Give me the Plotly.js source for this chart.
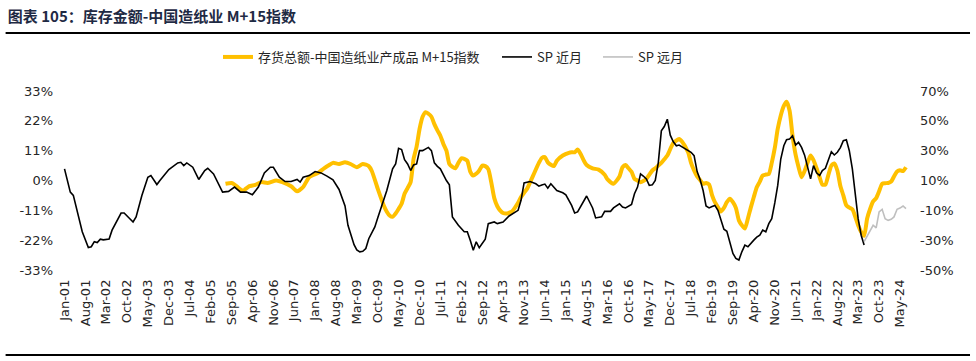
<!DOCTYPE html>
<html>
<head>
<meta charset="utf-8">
<script src="https://cdn.plot.ly/plotly-3.0.1.min.js"></script>
<style>html,body{margin:0;padding:0;background:#fff}#chart{width:976px;height:361px}</style>
</head>
<body>
<div id="chart"></div>
<script>
// ---- Data ----
const titleText = "图表 105：库存金额-中国造纸业 M+15指数";
const seriesNames = ["存货总额-中国造纸业产成品 M+15指数", "SP 近月", "SP 远月"];

const tickDates = ["2001-01","2001-08","2002-03","2002-10","2003-05","2003-12","2004-07","2005-02","2005-09","2006-04","2006-11","2007-06","2008-01","2008-08","2009-03","2009-10","2010-05","2010-12","2011-07","2012-02","2012-09","2013-04","2013-11","2014-06","2015-01","2015-08","2016-03","2016-10","2017-05","2017-12","2018-07","2019-02","2019-09","2020-04","2020-11","2021-06","2022-01","2022-08","2023-03","2023-10","2024-05"];
const tickLabels = ["Jan-01","Aug-01","Mar-02","Oct-02","May-03","Dec-03","Jul-04","Feb-05","Sep-05","Apr-06","Nov-06","Jun-07","Jan-08","Aug-08","Mar-09","Oct-09","May-10","Dec-10","Jul-11","Feb-12","Sep-12","Apr-13","Nov-13","Jun-14","Jan-15","Aug-15","Mar-16","Oct-16","May-17","Dec-17","Jul-18","Feb-19","Sep-19","Apr-20","Nov-20","Jun-21","Jan-22","Aug-22","Mar-23","Oct-23","May-24"];

const leftTicks = [-33, -22, -11, 0, 11, 22, 33];
const leftTickLabels = ["-33%", "-22%", "-11%", "0%", "11%", "22%", "33%"];
const rightTicks = [-50, -30, -10, 10, 30, 50, 70];
const rightTickLabels = ["-50%", "-30%", "-10%", "10%", "30%", "50%", "70%"];

// 存货总额 M+15 指数 (left axis, %)
const invDates = ["2005-07","2005-09","2005-10","2005-11","2005-12","2006-01","2006-02","2006-03","2006-05","2006-07","2006-09","2006-12","2007-02","2007-05","2007-07","2007-09","2007-11","2008-02","2008-04","2008-06","2008-07","2008-09","2008-11","2009-01","2009-03","2009-05","2009-07","2009-08","2009-10","2009-12","2010-01","2010-02","2010-03","2010-04","2010-05","2010-06","2010-07","2010-08","2010-09","2010-10","2010-11","2010-12","2011-01","2011-02","2011-03","2011-04","2011-05","2011-06","2011-07","2011-08","2011-09","2011-10","2011-11","2011-12","2012-01","2012-02","2012-03","2012-04","2012-05","2012-06","2012-07","2012-08","2012-09","2012-10","2012-11","2012-12","2013-01","2013-02","2013-03","2013-04","2013-05","2013-06","2013-07","2013-09","2013-10","2013-11","2013-12","2014-02","2014-04","2014-05","2014-06","2014-07","2014-08","2014-09","2014-10","2014-12","2015-02","2015-03","2015-04","2015-05","2015-06","2015-07","2015-08","2015-10","2015-12","2016-02","2016-03","2016-05","2016-07","2016-08","2016-09","2016-10","2016-11","2016-12","2017-01","2017-02","2017-03","2017-04","2017-06","2017-07","2017-08","2017-09","2017-10","2017-11","2018-01","2018-03","2018-04","2018-06","2018-07","2018-08","2018-09","2018-10","2018-11","2018-12","2019-01","2019-02","2019-03","2019-04","2019-05","2019-06","2019-07","2019-08","2019-09","2019-10","2019-11","2019-12","2020-01","2020-02","2020-03","2020-04","2020-05","2020-06","2020-07","2020-08","2020-09","2020-10","2020-11","2020-12","2021-01","2021-02","2021-03","2021-04","2021-05","2021-06","2021-07","2021-08","2021-09","2021-10","2021-11","2021-12","2022-01","2022-02","2022-03","2022-04","2022-05","2022-06","2022-07","2022-08","2022-09","2022-10","2022-11","2022-12","2023-01","2023-02","2023-03","2023-04","2023-05","2023-06","2023-07","2023-08","2023-09","2023-10","2023-11","2023-12","2024-01","2024-02","2024-03","2024-04","2024-05","2024-06","2024-07"];
const invValues = [-1.2,-0.9,-1.5,-2.4,-3.3,-3.7,-2.8,-2.1,-1.6,-0.6,-0.9,0,-0.6,-2.1,-4.0,-2.4,1.2,2.8,4.5,5.9,6.5,6.1,6.7,6.0,4.9,6.1,5.3,3.5,-3.1,-9.2,-11.5,-13,-13.4,-12.2,-10.5,-8.6,-4.9,-2.8,-0.6,8,12.5,19,23.5,25.2,24.6,23.5,20.8,18.5,16.5,13.5,11,6.1,5,4.5,6.5,8.2,8.0,7.3,3.3,1.8,2.5,3.7,5.5,5.3,4.2,-0.6,-6.5,-9.5,-11,-12,-12.2,-11.9,-11.4,-8.2,-6.1,-4.5,-3.1,1.8,6.5,8.3,8.6,6.7,5.8,5.3,7.3,9.2,10.2,10.4,10.4,11.4,9.8,7.5,5.7,4.5,4.0,2.1,0.4,-1.2,1.5,4.9,5.7,4.5,3.2,0.6,0,-0.6,-0.2,0.6,3.7,4.5,5.5,6.5,7.8,9.2,13.8,15.3,14.3,10.4,6.5,3.7,1.5,0.2,-1.2,-0.9,-1.5,-5.5,-8,-9.8,-11.4,-10.1,-8,-6.7,-8,-10.1,-14.7,-16.5,-17.7,-14,-10,-6.1,-2.5,-0.4,1.8,2.2,2.4,6.5,12,19,24,27.5,29,25.7,16.5,9.5,5,1.2,3.5,6.5,9.2,7.5,4.5,1.2,-1.5,-1.5,2.0,5.5,6.3,3.7,-2,-5.5,-9.2,-10,-10.6,-13.5,-16.5,-19,-20.4,-14,-10.5,-7.7,-6.5,-4,-1.2,-1.0,-0.9,-0.4,1.5,3.3,3.8,3.5,4.9];

// SP 近月 (right axis, %)
const nearDates = ["2001-01","2001-03","2001-04","2001-07","2001-09","2001-10","2001-11","2001-12","2002-01","2002-02","2002-04","2002-05","2002-08","2002-09","2002-12","2003-01","2003-03","2003-05","2003-06","2003-08","2003-09","2003-11","2003-12","2004-03","2004-04","2004-05","2004-06","2004-08","2004-10","2004-12","2005-01","2005-03","2005-05","2005-06","2005-08","2005-10","2005-12","2006-02","2006-04","2006-06","2006-08","2006-10","2006-11","2007-01","2007-03","2007-05","2007-07","2007-08","2007-09","2007-11","2008-01","2008-03","2008-05","2008-07","2008-09","2008-10","2008-11","2008-12","2009-01","2009-02","2009-03","2009-04","2009-05","2009-06","2009-07","2009-08","2009-09","2009-10","2009-11","2010-01","2010-03","2010-04","2010-05","2010-06","2010-07","2010-08","2010-09","2010-10","2010-11","2010-12","2011-01","2011-02","2011-03","2011-04","2011-05","2011-06","2011-07","2011-09","2011-10","2011-11","2012-01","2012-03","2012-04","2012-05","2012-06","2012-07","2012-08","2012-10","2012-11","2013-01","2013-02","2013-04","2013-06","2013-09","2013-10","2013-11","2014-01","2014-03","2014-04","2014-05","2014-06","2014-07","2014-08","2014-10","2014-12","2015-01","2015-03","2015-04","2015-05","2015-08","2015-10","2015-11","2016-01","2016-02","2016-04","2016-05","2016-07","2016-08","2016-09","2016-11","2016-12","2017-01","2017-02","2017-03","2017-04","2017-05","2017-06","2017-07","2017-08","2017-09","2017-10","2017-11","2017-12","2018-01","2018-02","2018-03","2018-05","2018-06","2018-07","2018-08","2018-09","2018-10","2018-11","2018-12","2019-01","2019-02","2019-03","2019-04","2019-05","2019-06","2019-07","2019-08","2019-09","2019-10","2019-11","2019-12","2020-01","2020-02","2020-03","2020-04","2020-05","2020-06","2020-07","2020-08","2020-09","2020-10","2020-11","2020-12","2021-01","2021-02","2021-03","2021-04","2021-05","2021-06","2021-07","2021-08","2021-09","2021-10","2021-11","2021-12","2022-01","2022-02","2022-03","2022-04","2022-05","2022-06","2022-07","2022-08","2022-09","2022-10","2022-11","2022-12","2023-01","2023-02","2023-03","2023-04","2023-05"];
const nearValues = [17.8,2.2,0,-24.4,-34.9,-34.4,-31,-31.6,-29.3,-29.8,-29.3,-23.3,-11.8,-11.8,-17.8,-14.4,0,12.2,13.3,7.3,10,14.4,17.3,21.8,22.2,20,21.8,18.9,10.7,16.7,18.2,14.4,6.7,2.2,2.7,5.6,2.2,2.2,0.4,5.6,15.1,18.9,18.9,12.2,9.3,9.3,10.7,8.9,12.2,13.3,16,15.1,12.9,10.4,4,-1,-7,-20,-26,-33,-36.5,-37.8,-37.5,-35.6,-29,-25,-21.1,-15,-8.9,3.3,17.8,21.1,31.6,30.7,24,21.1,16.7,20.4,21.1,30,30,31,32.2,30,21.8,19.5,17.8,10,7.1,-14.4,-20,-24.4,-24.4,-30,-36.7,-31.1,-35.1,-29.3,-18.9,-17.8,-18.9,-17.8,-13.8,-10,-3.3,8.4,9.3,7.8,6.2,7.0,7.6,4.9,7.8,3.3,1.8,0.4,-6.7,-11.8,-11.1,-0.4,-8.4,-15.1,-14.4,-10.7,-10.7,-8.4,-5.6,-7.8,-8.4,-6,1.1,5.6,14.4,13,11.1,6.7,7.1,10,22,43.3,46.2,51.1,40.4,36,33.3,33.8,31.6,30,28.9,26.7,16,10.7,3.3,-7.1,-8.4,-7.5,-6.7,-10,-15.6,-22.7,-24,-31.1,-38.9,-42.2,-43.3,-37.8,-33.3,-34.4,-32,-30,-28,-26.7,-23.3,-24.4,-18.9,-15.6,-5,6.7,24.4,33.3,37.3,37.8,40,33.8,35.6,32.2,27,19,11.1,20,15.1,13.3,16.7,18.2,24,29.3,27.1,28.9,32,36.7,37.3,30,17.8,2.2,-15.6,-26.7,-33.3];

// SP 远月 (right axis, %)
const farDates = ["2023-05","2023-06","2023-07","2023-08","2023-09","2023-10","2023-11","2023-12","2024-01","2024-02","2024-03","2024-04","2024-05","2024-06","2024-07"];
const farValues = [-31,-27,-23.3,-20,-21.8,-11.1,-9.3,-15.6,-16.7,-16,-14.4,-9.3,-8.5,-7.1,-8.9];

// ---- Chart ----
const tickFont = {family: "DejaVu Sans, Liberation Sans, sans-serif", size: 13, color: "#262626"};
const cjk = "Noto Sans CJK SC, DejaVu Sans, sans-serif";
const legendFont = {family: cjk, size: 13, color: "#262626"};

const traces = [
  {x: invDates, y: invValues, name: seriesNames[0], type: "scatter", mode: "lines",
   line: {color: "#FFC000", width: 4, shape: "spline", smoothing: 0.6}, yaxis: "y", legend: "legend"},
  {x: nearDates, y: nearValues, name: seriesNames[1], type: "scatter", mode: "lines",
   line: {color: "#000000", width: 1.6}, yaxis: "y2", legend: "legend2"},
  {x: farDates, y: farValues, name: seriesNames[2], type: "scatter", mode: "lines",
   line: {color: "#BFBFBF", width: 1.6}, yaxis: "y2", legend: "legend3"}
];

function legendAt(px) {
  return {orientation: "h", x: (px - 60) / 850, xanchor: "left", y: 1.19, yanchor: "middle",
          font: legendFont, bgcolor: "rgba(0,0,0,0)", borderwidth: 0};
}

const layout = {
  width: 976, height: 361,
  paper_bgcolor: "#ffffff", plot_bgcolor: "#ffffff",
  margin: {l: 60, r: 66, t: 91, b: 91, pad: 0},
  title: {text: "<b>" + titleText + "</b>", x: 0.008, xref: "container", xanchor: "left",
          y: 0.953, yref: "container", yanchor: "middle",
          font: {family: cjk, size: 15, color: "#1F2A44"}},
  showlegend: true,
  legend: legendAt(218),
  legend2: legendAt(497),
  legend3: legendAt(598),
  xaxis: {type: "date", range: ["2000-11-16", "2024-08-11"], showgrid: false, zeroline: false,
          showline: false, ticks: "", tickmode: "array", tickvals: tickDates, ticktext: tickLabels,
          tickangle: -90, tickfont: tickFont, ticklabelstandoff: 6},
  yaxis: {range: [-33, 33], tickmode: "array", tickvals: leftTicks, ticktext: leftTickLabels,
          showgrid: false, zeroline: false, showline: false, ticks: "", tickfont: tickFont,
          ticklabelstandoff: 6},
  yaxis2: {range: [-50, 70], tickmode: "array", tickvals: rightTicks, ticktext: rightTickLabels,
           overlaying: "y", side: "right", showgrid: false, zeroline: false, showline: false,
           ticks: "", tickfont: tickFont, ticklabelstandoff: 9},
  shapes: [
    {type: "rect", xref: "paper", yref: "paper", x0: -0.064, x1: 1.0706, y0: 1.3185, y1: 1.3296,
     fillcolor: "#000000", line: {width: 0}, layer: "above"},
    {type: "rect", xref: "paper", yref: "paper", x0: -0.064, x1: 1.0706, y0: -0.4806, y1: -0.4694,
     fillcolor: "#000000", line: {width: 0}, layer: "above"}
  ],
  hovermode: false
};

Plotly.newPlot("chart", traces, layout, {staticPlot: true, displayModeBar: false});
</script>
</body>
</html>
